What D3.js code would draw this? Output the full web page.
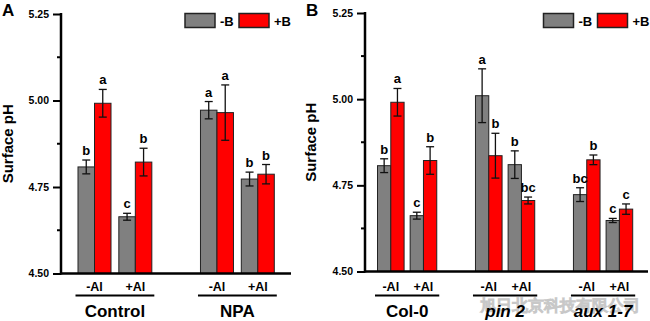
<!DOCTYPE html>
<html>
<head>
<meta charset="utf-8">
<script src="https://cdn.jsdelivr.net/npm/d3@7/dist/d3.min.js"></script>
<style>
  body { margin: 0; background: #fff; }
  svg text { font-family: "Liberation Sans", Arial, sans-serif; font-weight: bold; }
</style>
</head>
<body>
<div id="chart"></div>
<script>
// Panel A: Control vs NPA, order = [group -Al, group +Al, ...]
var groupsA = ["Control", "NPA"];
var meanA_minusB = [4.808, 4.664, 4.972, 4.773];
var errA_minusB = [0.02, 0.01, 0.025, 0.02];
var meanA_plusB = [4.992, 4.822, 4.965, 4.787];
var errA_plusB = [0.04, 0.04, 0.08, 0.028];
var letA_minusB = ["b", "c", "a", "b"];
var letA_plusB = ["a", "b", "a", "b"];

// Panel B: genotypes
var groupsB = ["Col-0", "pin 2", "aux 1-7"];
var meanB_minusB = [4.807, 4.662, 5.010, 4.810, 4.723, 4.648];
var errB_minusB = [0.02, 0.01, 0.078, 0.04, 0.02, 0.006];
var meanB_plusB = [4.991, 4.822, 4.836, 4.706, 4.824, 4.681];
var errB_plusB = [0.04, 0.04, 0.065, 0.01, 0.014, 0.015];
var letB_minusB = ["b", "c", "a", "b", "bc", "c"];
var letB_plusB = ["a", "b", "b", "bc", "b", "c"];

var alLevels = ["-Al", "+Al"];
var boronLevels = ["-B", "+B"];
var yTicks = [4.50, 4.75, 5.00, 5.25];
var yMinorTicks = [4.625, 4.875, 5.125];

var colors = { "-B": "#808080", "+B": "#ff0000" };

var svg = d3.select("#chart").append("svg")
  .attr("width", 650)
  .attr("height", 321);

// faint watermark in the lower right corner (drawn first so labels sit on top)
svg.append("text")
  .attr("x", 480)
  .attr("y", 311)
  .attr("font-size", 16)
  .attr("font-family", "Noto Sans CJK SC")
  .attr("font-weight", "normal")
  .attr("fill", "#fff")
  .attr("stroke", "#c8c8c8")
  .attr("stroke-width", 0.7)
  .text("旭日北京科技有限公司");

function drawPanel(opt) {
  var g = svg.append("g");
  var y = d3.scaleLinear().domain([4.5, 5.25]).range([opt.yBottom, opt.yTop]);

  // slot positions: each group takes two slots plus one empty slot between groups
  var slots = [];
  opt.groups.forEach(function(grp, gi) {
    alLevels.forEach(function(al, ai) { slots.push(gi * 3 + ai); });
  });
  var x = d3.scaleLinear().domain([0, d3.max(slots)]).range([opt.xFirst, opt.xLast]);
  var inner = d3.scaleBand().domain(boronLevels).range([-opt.bw, opt.bw]);

  var rows = [];
  slots.forEach(function(s, i) {
    rows.push({ slot: s, b: "-B", mean: opt.minusB[i], err: opt.errMinus[i], letter: opt.letMinus[i] });
    rows.push({ slot: s, b: "+B", mean: opt.plusB[i], err: opt.errPlus[i], letter: opt.letPlus[i] });
  });

  // bars
  g.selectAll("rect.bar")
    .data(rows)
    .enter()
    .append("rect")
    .attr("class", "bar")
    .attr("x", d => x(d.slot) + inner(d.b))
    .attr("y", d => y(d.mean))
    .attr("width", inner.bandwidth())
    .attr("height", d => y(4.5) - y(d.mean))
    .attr("fill", d => colors[d.b])
    .attr("stroke", "#222")
    .attr("stroke-width", 1);

  // error bars
  var eb = g.selectAll("g.err")
    .data(rows)
    .enter()
    .append("g")
    .attr("transform", d => `translate(${x(d.slot) + inner(d.b) + inner.bandwidth() / 2},0)`)
    .attr("stroke", "#111")
    .attr("stroke-width", 1.3);
  eb.append("line")
    .attr("y1", d => y(d.mean + d.err))
    .attr("y2", d => y(d.mean - d.err));
  eb.append("line")
    .attr("x1", -4).attr("x2", 4)
    .attr("y1", d => y(d.mean + d.err))
    .attr("y2", d => y(d.mean + d.err));
  eb.append("line")
    .attr("x1", -4).attr("x2", 4)
    .attr("y1", d => y(d.mean - d.err))
    .attr("y2", d => y(d.mean - d.err));

  // significance letters
  g.selectAll("text.sig")
    .data(rows)
    .enter()
    .append("text")
    .attr("class", "sig")
    .attr("x", d => x(d.slot) + inner(d.b) + inner.bandwidth() / 2)
    .attr("y", d => y(d.mean + d.err) - 5)
    .attr("text-anchor", "middle")
    .attr("font-size", 13)
    .text(d => d.letter);

  // y axis
  var leftAxis = d3.axisLeft(y).tickValues(yTicks).tickFormat(d3.format(".2f")).tickSize(8).tickPadding(4);
  var yAxis = g.append("g")
    .attr("transform", `translate(${opt.xAxis},0)`)
    .call(leftAxis);
  yAxis.select(".domain").remove();
  yAxis.selectAll(".tick line").attr("stroke", "#000").attr("stroke-width", 2);
  yAxis.selectAll(".tick text").attr("font-size", 10.5).attr("fill", "#000")
    .attr("font-family", "Liberation Sans, Arial, sans-serif").attr("font-weight", "bold");
  g.selectAll("line.minor")
    .data(yMinorTicks)
    .enter()
    .append("line")
    .attr("x1", opt.xAxis - 4).attr("x2", opt.xAxis)
    .attr("y1", d => y(d)).attr("y2", d => y(d))
    .attr("stroke", "#000").attr("stroke-width", 2);
  g.append("line")
    .attr("x1", opt.xAxis).attr("x2", opt.xAxis)
    .attr("y1", y(5.25) - 1).attr("y2", y(4.5) + 1)
    .attr("stroke", "#000").attr("stroke-width", 2.5);
  g.append("line")
    .attr("x1", opt.xAxis).attr("x2", opt.xEnd)
    .attr("y1", y(4.5)).attr("y2", y(4.5))
    .attr("stroke", "#000").attr("stroke-width", 2.5);

  // Al labels and group underlines
  g.selectAll("text.al")
    .data(slots)
    .enter()
    .append("text")
    .attr("x", d => x(d))
    .attr("y", 291)
    .attr("text-anchor", "middle")
    .attr("font-size", 12.5)
    .text((d, i) => alLevels[i % 2]);

  opt.groups.forEach(function(grp, gi) {
    var x0 = x(gi * 3) - opt.bw - 2.5;
    var x1 = x(gi * 3 + 1) + opt.bw + 2.5;
    g.append("line")
      .attr("x1", x0).attr("x2", x1)
      .attr("y1", 295.5).attr("y2", 295.5)
      .attr("stroke", "#000").attr("stroke-width", 2);
    g.append("text")
      .attr("x", (x0 + x1) / 2)
      .attr("y", 316.5)
      .attr("text-anchor", "middle")
      .attr("font-size", 17)
      .attr("font-style", opt.italic[gi] ? "italic" : "normal")
      .text(grp);
  });

  // y label
  g.append("text")
    .attr("transform", `translate(${opt.yLabelX},${(opt.yTop + opt.yBottom) / 2}) rotate(-90)`)
    .attr("text-anchor", "middle")
    .attr("font-size", 15)
    .text("Surface pH");

  // panel letter
  g.append("text")
    .attr("x", opt.panelX)
    .attr("y", 15.5)
    .attr("font-size", 17)
    .text(opt.panel);

  // legend
  var leg = g.append("g").attr("transform", `translate(${opt.legendX},13.5)`);
  boronLevels.forEach(function(b, i) {
    var lx = i * 54;
    leg.append("rect")
      .attr("x", lx).attr("y", 0)
      .attr("width", 30).attr("height", 14)
      .attr("fill", colors[b])
      .attr("stroke", "#222").attr("stroke-width", 1.5);
    leg.append("text")
      .attr("x", lx + 35).attr("y", 12)
      .attr("font-size", 13)
      .text(b);
  });
}

drawPanel({
  panel: "A", panelX: 2, legendX: 185,
  groups: groupsA, italic: [false, false],
  minusB: meanA_minusB, errMinus: errA_minusB, letMinus: letA_minusB,
  plusB: meanA_plusB, errPlus: errA_plusB, letPlus: letA_plusB,
  xAxis: 61, xEnd: 291, yTop: 14, yBottom: 273.5,
  xFirst: 94.5, xLast: 257.8, bw: 16.5, yLabelX: 12.5
});

drawPanel({
  panel: "B", panelX: 306, legendX: 543.5,
  groups: groupsB, italic: [false, true, true],
  minusB: meanB_minusB, errMinus: errB_minusB, letMinus: letB_minusB,
  plusB: meanB_plusB, errPlus: errB_plusB, letPlus: letB_plusB,
  xAxis: 365, xEnd: 648, yTop: 13, yBottom: 271.5,
  xFirst: 390.8, xLast: 619.4, bw: 13.3, yLabelX: 316
});
</script>
</body>
</html>
